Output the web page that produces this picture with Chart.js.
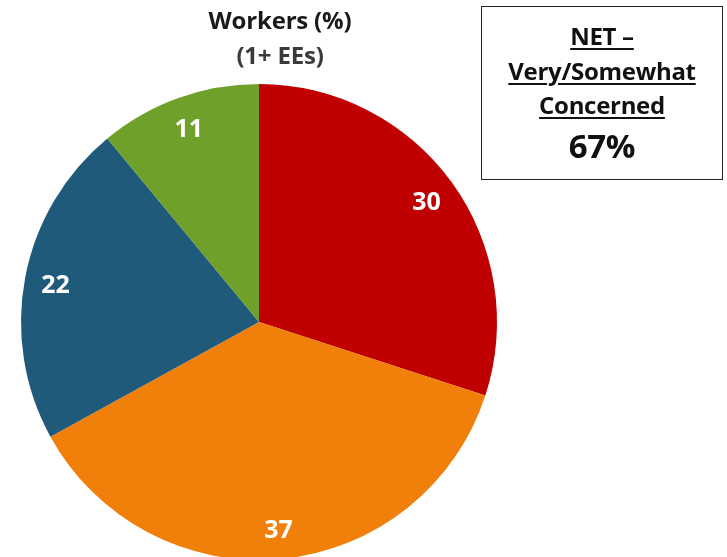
<!DOCTYPE html>
<html lang="en">
<head>
  <meta charset="UTF-8">
  <title>Workers (%)</title>
  <script src="https://cdn.jsdelivr.net/npm/chart.js"></script>
  <style>
    html, body { margin: 0; padding: 0; background: #fff; overflow: hidden; }
    body { width: 727px; height: 557px; position: relative; font-family: "Open Sans", Lato, sans-serif; }
    #grafico { position: absolute; left: 0; top: 0; }
    .titulo { position: absolute; left: 140px; width: 280px; text-align: center; font-weight: 700; font-size: 24px; letter-spacing: -0.2px; line-height: 32px; }
    .t1 { top: 4px; color: #1a1a1a; }
    .t2 { top: 39px; color: #3a3a3a; }
    .caixa {
      position: absolute; left: 481px; top: 6px; width: 242px; height: 174px;
      border: 1.5px solid #222; box-sizing: border-box; text-align: center;
      font-weight: 700; color: #111; font-size: 24px; letter-spacing: -0.3px;
    }
    .caixa span { display: block; text-decoration: underline; text-underline-offset: 3px; text-decoration-thickness: 2px; line-height: 34.5px; }
    .caixa .l1 { margin-top: 12px; }
    .caixa .pct { text-decoration: none; font-size: 33px; line-height: 42px; margin-top: 2px; }
  </style>
</head>
<body>
  <canvas id="grafico" width="727" height="565"></canvas>
  <div class="titulo t1">Workers (%)</div>
  <div class="titulo t2">(1+ EEs)</div>
  <div class="caixa">
    <span class="l1">NET &ndash;</span>
    <span>Very/Somewhat</span>
    <span>Concerned</span>
    <span class="pct">67%</span>
  </div>

  <script>
    // valores (sentido horario a partir do topo)
    const categorias = ['Very concerned', 'Somewhat concerned', 'Not too concerned', 'Not at all concerned'];
    const valores = [30, 37, 22, 11];
    const cores = ['#C00000', '#F0800A', '#1F5A7B', '#6EA02A'];

    // rotulos brancos dentro das fatias
    const rotulosFatias = {
      id: 'rotulosFatias',
      afterDatasetsDraw(chart) {
        const ctx = chart.ctx;
        const meta = chart.getDatasetMeta(0);
        ctx.save();
        ctx.fillStyle = '#fff';
        ctx.font = 'bold 25px "Open Sans", Lato, sans-serif';
        ctx.textAlign = 'center';
        ctx.textBaseline = 'middle';
        meta.data.forEach((arc, i) => {
          const p = arc.getProps(['x', 'y', 'startAngle', 'endAngle', 'outerRadius'], true);
          const meio = (p.startAngle + p.endAngle) / 2;
          const r = p.outerRadius * 0.87;
          ctx.fillText(String(valores[i]), p.x + Math.cos(meio) * r, p.y + Math.sin(meio) * r + 3);
        });
        ctx.restore();
      }
    };

    const ctxPizza = document.getElementById('grafico').getContext('2d');
    const graficoPizza = new Chart(ctxPizza, {
      type: 'pie',
      data: {
        labels: categorias,
        datasets: [{
          data: valores,
          backgroundColor: cores,
          borderWidth: 0
        }]
      },
      options: {
        responsive: false,
        animation: false,
        layout: { padding: { left: 21, right: 230, top: 84, bottom: 5 } },
        plugins: {
          legend: { display: false },
          tooltip: { enabled: false },
          title: { display: false }
        }
      },
      plugins: [rotulosFatias]
    });
  </script>
</body>
</html>
